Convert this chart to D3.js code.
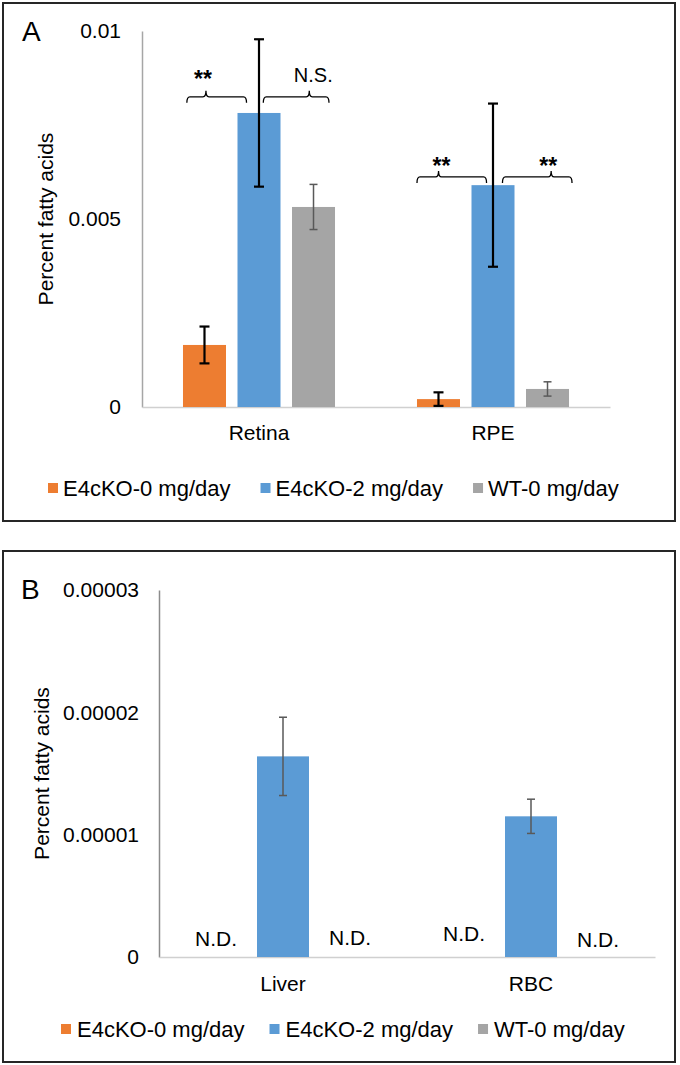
<!DOCTYPE html>
<html><head><meta charset="utf-8">
<script src="https://cdn.jsdelivr.net/npm/d3@7"></script>
<style>body{margin:0;background:#fff}svg text{font-family:"Liberation Sans",Arial,sans-serif;fill:#000}</style>
</head><body><svg id="c" width="680" height="1065"></svg>
<script>
// ---------- data ----------
const series = ["E4cKO-0 mg/day", "E4cKO-2 mg/day", "WT-0 mg/day"];
const seriesColors = ["#ED7D31", "#5B9BD5", "#A5A5A5"];

const categoriesA = ["Retina", "RPE"];
const valuesA_E4cKO0 = [0.00165, 0.00021];
const errorsA_E4cKO0 = [0.00049, 0.00018];
const valuesA_E4cKO2 = [0.00782, 0.00590];
const errorsA_E4cKO2 = [0.00196, 0.00217];
const valuesA_WT0 = [0.00532, 0.00048];
const errorsA_WT0 = [0.00060, 0.00019];
const ticksA = [0, 0.005, 0.01];
const tickLabelsA = ["0", "0.005", "0.01"];

const categoriesB = ["Liver", "RBC"];
const valuesB_E4cKO0 = [null, null];   // N.D.
const errorsB_E4cKO0 = [null, null];
const valuesB_E4cKO2 = [0.0000164, 0.0000115];
const errorsB_E4cKO2 = [0.0000032, 0.0000014];
const valuesB_WT0 = [null, null];      // N.D.
const errorsB_WT0 = [null, null];
const ticksB = [0, 0.00001, 0.00002, 0.00003];
const tickLabelsB = ["0", "0.00001", "0.00002", "0.00003"];

// significance annotations (panel A)
const sigCats   = ["Retina", "Retina", "RPE", "RPE"];
const sigFrom   = [0, 1, 0, 1];
const sigTo     = [1, 2, 1, 2];
const sigLabels = ["**", "N.S.", "**", "**"];
const sigLevel  = [0.00825, 0.00825, 0.00612, 0.00612];
const sigLabelLevel = [0.0085, 0.00864, 0.00621, 0.00621];
// N.D. annotations (panel B)
const ndLevel = [0.0000009, 0.0000010, 0.0000013, 0.0000008];

// ---------- drawing ----------
const svg = d3.select("#c");

function panel(cfg) {
  const g = svg.append("g");
  // frame
  g.append("rect").attr("x", cfg.box[0]).attr("y", cfg.box[1])
    .attr("width", cfg.box[2] - cfg.box[0]).attr("height", cfg.box[3] - cfg.box[1])
    .attr("fill", "none").attr("stroke", "#262626").attr("stroke-width", 2);

  const y = d3.scaleLinear().domain([0, cfg.yMax]).range([cfg.y0, cfg.yTop]);
  const x0 = d3.scaleBand().domain(cfg.categories).range([cfg.xL, cfg.xR]).padding(0);
  const x1 = d3.scaleBand().domain(d3.range(series.length)).range([0, x0.bandwidth()])
    .paddingInner(cfg.pIn).paddingOuter(cfg.pOut);

  // y axis
  const ya = d3.axisLeft(y).tickValues(cfg.ticks).tickSize(0).tickPadding(cfg.tickPad)
    .tickFormat((d, i) => cfg.tickLabels[i]);
  const yg = g.append("g").attr("transform", `translate(${cfg.xL},0)`).call(ya);
  yg.select(".domain").attr("stroke", cfg.yAxisColor).attr("stroke-width", 1.5);
  yg.selectAll("text").style("font-size", cfg.tickFont + "px")
    .style("font-family", '"Liberation Sans",Arial,sans-serif').attr("fill", "#000");

  // x axis
  const xa = d3.axisBottom(x0).tickSize(0).tickPadding(cfg.catPad);
  const xg = g.append("g").attr("transform", `translate(0,${cfg.y0})`).call(xa);
  xg.select(".domain").attr("stroke", "#d0d0d0").attr("stroke-width", 1.5);
  xg.selectAll("text").style("font-size", cfg.catFont + "px")
    .style("font-family", '"Liberation Sans",Arial,sans-serif').attr("fill", "#000");

  // y title
  g.append("text").attr("transform", `translate(${cfg.titleX},${(cfg.y0 + cfg.yTop) / 2}) rotate(-90)`)
    .attr("text-anchor", "middle").attr("dominant-baseline", "central")
    .style("font-size", cfg.titleFont + "px").text("Percent fatty acids");

  // panel letter
  g.append("text").attr("x", cfg.letterX).attr("y", cfg.letterY)
    .style("font-size", "28px").text(cfg.letter);

  // bars
  const rows = [];
  cfg.categories.forEach((c, ci) => {
    cfg.values.forEach((vals, si) => {
      rows.push({c, ci, si, v: vals[ci], e: cfg.errors[si][ci]});
    });
  });
  const bx = d => x0(d.c) + x1(d.si);
  g.selectAll("rect.bar").data(rows.filter(d => d.v != null)).enter().append("rect")
    .attr("class", "bar")
    .attr("x", bx).attr("width", x1.bandwidth())
    .attr("y", d => y(d.v)).attr("height", d => y(0) - y(d.v))
    .attr("fill", d => seriesColors[d.si]);

  // error bars
  const eb = g.selectAll("g.err").data(rows.filter(d => d.v != null && d.e != null)).enter().append("g");
  const eStroke = d => cfg.errColor[d.si];
  const eW = d => cfg.errWidth[d.si];
  const cx = d => bx(d) + x1.bandwidth() / 2;
  eb.append("line").attr("x1", cx).attr("x2", cx)
    .attr("y1", d => y(d.v + d.e)).attr("y2", d => y(d.v - d.e))
    .attr("stroke", eStroke).attr("stroke-width", eW);
  [1, -1].forEach(s => {
    eb.append("line").attr("x1", d => cx(d) - cfg.capHalf[d.si]).attr("x2", d => cx(d) + cfg.capHalf[d.si])
      .attr("y1", d => y(d.v + s * d.e)).attr("y2", d => y(d.v + s * d.e))
      .attr("stroke", eStroke).attr("stroke-width", eW);
  });

  // legend
  let lx = cfg.legendX;
  series.forEach((s, i) => {
    g.append("rect").attr("x", lx).attr("y", cfg.legendY - 5).attr("width", 10).attr("height", 10)
      .attr("fill", seriesColors[i]);
    const t = g.append("text").attr("x", lx + cfg.legendTextGap).attr("y", cfg.legendY)
      .attr("dominant-baseline", "central").style("font-size", cfg.legendFont + "px").text(s);
    lx += cfg.legendTextGap + t.node().getComputedTextLength() + cfg.legendItemGap;
  });

  return {g, x0, x1, y};
}

// ---------- Panel A ----------
const A = panel({
  box: [3, 3, 675, 521], letter: "A", letterX: 22, letterY: 41,
  categories: categoriesA,
  values: [valuesA_E4cKO0, valuesA_E4cKO2, valuesA_WT0],
  errors: [errorsA_E4cKO0, errorsA_E4cKO2, errorsA_WT0],
  yMax: 0.01, y0: 407, yTop: 31, xL: 142, xR: 610,
  pIn: 0.211, pOut: 0.752,
  ticks: ticksA, tickLabels: tickLabelsA, tickPad: 21, tickFont: 21,
  yAxisColor: "#a6a6a6",
  catPad: 18, catFont: 21, titleX: 45, titleFont: 21,
  errColor: ["#000", "#000", "#595959"], errWidth: [2.2, 2.2, 1.5], capHalf: [5, 5, 4],
  legendX: 48, legendY: 488, legendTextGap: 15, legendFont: 22, legendItemGap: 30
});

// significance braces
function brace(x1, x2, xc, yy) {
  const h = 6, t = 6, r = 3;
  return `M${x1},${yy + h} Q${x1},${yy} ${x1 + r},${yy} L${xc - r},${yy} Q${xc},${yy} ${xc},${yy - t}` +
         ` Q${xc},${yy} ${xc + r},${yy} L${x2 - r},${yy} Q${x2},${yy} ${x2},${yy + h}`;
}
const braceStart = [0.09, 0.6, 0.0, 0.72];  // fraction of bar width from left of 'from' bar
const braceEnd   = [0.21, 0.86, 0.35, 1.07]; // fraction of bar width from left of 'to' bar
const braceMid   = [0.32, 0.7, 0.31, 0.7];
const labelShift = [-3, 4, 3, -3];
sigLabels.forEach((lab, i) => {
  const bw = A.x1.bandwidth();
  const xs = A.x0(sigCats[i]) + A.x1(sigFrom[i]) + braceStart[i] * bw;
  const xe = A.x0(sigCats[i]) + A.x1(sigTo[i]) + braceEnd[i] * bw;
  const xc = xs + (xe - xs) * braceMid[i];
  A.g.append("path").attr("d", brace(xs, xe, xc, A.y(sigLevel[i])))
    .attr("fill", "none").attr("stroke", "#000").attr("stroke-width", 1.3);
  const isStar = lab === "**";
  A.g.append("text").attr("x", xc + labelShift[i]).attr("y", A.y(sigLabelLevel[i]))
    .attr("text-anchor", "middle")
    .style("font-size", isStar ? "23px" : "20px")
    .style("font-weight", isStar ? "bold" : "normal")
    .text(lab);
});

// ---------- Panel B ----------
const B = panel({
  box: [3, 551, 675, 1062], letter: "B", letterX: 21, letterY: 599,
  categories: categoriesB,
  values: [valuesB_E4cKO0, valuesB_E4cKO2, valuesB_WT0],
  errors: [errorsB_E4cKO0, errorsB_E4cKO2, errorsB_WT0],
  yMax: 0.00003, y0: 957, yTop: 590, xL: 159, xR: 655,
  pIn: 0.224, pOut: 0.463,
  ticks: ticksB, tickLabels: tickLabelsB, tickPad: 20, tickFont: 21,
  yAxisColor: "#8c8c8c",
  catPad: 19, catFont: 21, titleX: 41, titleFont: 21,
  errColor: ["#595959", "#595959", "#595959"], errWidth: [1.5, 1.5, 1.5], capHalf: [4, 4, 4],
  legendX: 61, legendY: 1029, legendTextGap: 16, legendFont: 22, legendItemGap: 25
});

// N.D. labels
const ndRows = [];
categoriesB.forEach((c, ci) => {
  [[0, valuesB_E4cKO0], [2, valuesB_WT0]].forEach(([si, vals]) => {
    if (vals[ci] == null) ndRows.push({c, si});
  });
});
ndRows.forEach((d, i) => {
  B.g.append("text").attr("x", B.x0(d.c) + B.x1(d.si) + B.x1.bandwidth() / 2)
    .attr("y", B.y(ndLevel[i])).attr("text-anchor", "middle")
    .style("font-size", "21px").text("N.D.");
});
</script></body></html>
